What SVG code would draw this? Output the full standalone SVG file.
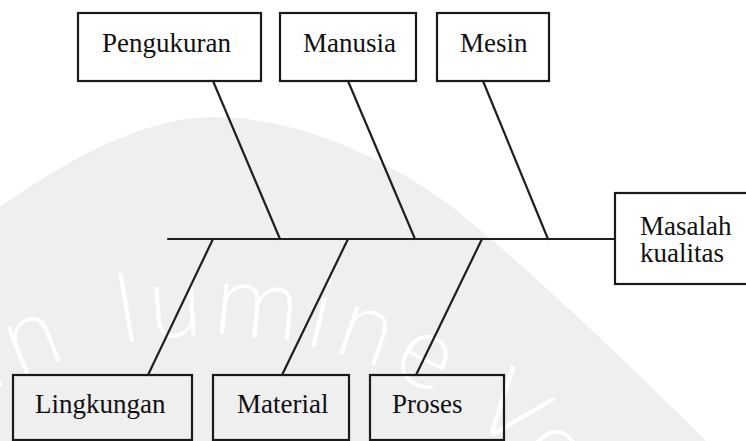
<svg xmlns="http://www.w3.org/2000/svg" width="746" height="441" viewBox="0 0 746 441">
  <defs>
    <style>
      .box { fill: none; stroke: #1a1a1a; stroke-width: 2.2; }
      .lbl { font-family: "Liberation Serif", "Times New Roman", serif; font-size: 27px; fill: #111; }
      .bone { stroke: #1f1f1f; stroke-width: 2.2; fill: none; stroke-linecap: round; }
      .wm { font-family: "DejaVu Sans", "Open Sans", sans-serif; font-weight: 200; font-size: 92px; fill: #ffffff; letter-spacing: 3px; }
    </style>
    <path id="wmArc" d="M -240,785 A 450 450 0 0 1 660,785"/>
  </defs>
  <rect width="746" height="441" fill="#ffffff"/>
  <!-- watermark -->
  <g id="watermark">
    <path d="M0,441 L0,207 C60,165 140,117 213,117 C290,117 370,150 443,200 C490,235 600,335 706,441 Z" fill="#efefef"/>
    <text class="wm"><textPath href="#wmArc" startOffset="476">In</textPath></text>
    <text class="wm"><textPath href="#wmArc" startOffset="616">lumine Ve</textPath></text>
  </g>
  <g id="connectors">
    <line class="bone" x1="168" y1="239" x2="615" y2="239"/>
    <line class="bone" x1="213" y1="81" x2="280" y2="239"/>
    <line class="bone" x1="348" y1="81" x2="415" y2="239"/>
    <line class="bone" x1="483" y1="81" x2="548" y2="239"/>
    <line class="bone" x1="213" y1="239" x2="148" y2="375"/>
    <line class="bone" x1="348" y1="239" x2="282" y2="375"/>
    <line class="bone" x1="482" y1="239" x2="416" y2="375"/>
  </g>
  <g id="pengukuran">
    <rect class="box" x="78" y="13" width="183" height="68"/>
    <text class="lbl" x="102" y="52">Pengukuran</text>
  </g>
  <g id="manusia">
    <rect class="box" x="280" y="13" width="136" height="68"/>
    <text class="lbl" x="303" y="52">Manusia</text>
  </g>
  <g id="mesin">
    <rect class="box" x="437" y="13" width="112" height="68"/>
    <text class="lbl" x="460" y="52">Mesin</text>
  </g>
  <g id="masalah">
    <rect class="box" x="615" y="193" width="150" height="91"/>
    <text class="lbl" x="640" y="235">Masalah</text>
    <text class="lbl" x="640" y="262">kualitas</text>
  </g>
  <g id="lingkungan">
    <rect class="box" x="13" y="375" width="179" height="65"/>
    <text class="lbl" x="35" y="413">Lingkungan</text>
  </g>
  <g id="material">
    <rect class="box" x="213" y="375" width="136" height="65"/>
    <text class="lbl" x="237" y="413">Material</text>
  </g>
  <g id="proses">
    <rect class="box" x="370" y="375" width="134" height="65"/>
    <text class="lbl" x="392" y="413">Proses</text>
  </g>
</svg>
